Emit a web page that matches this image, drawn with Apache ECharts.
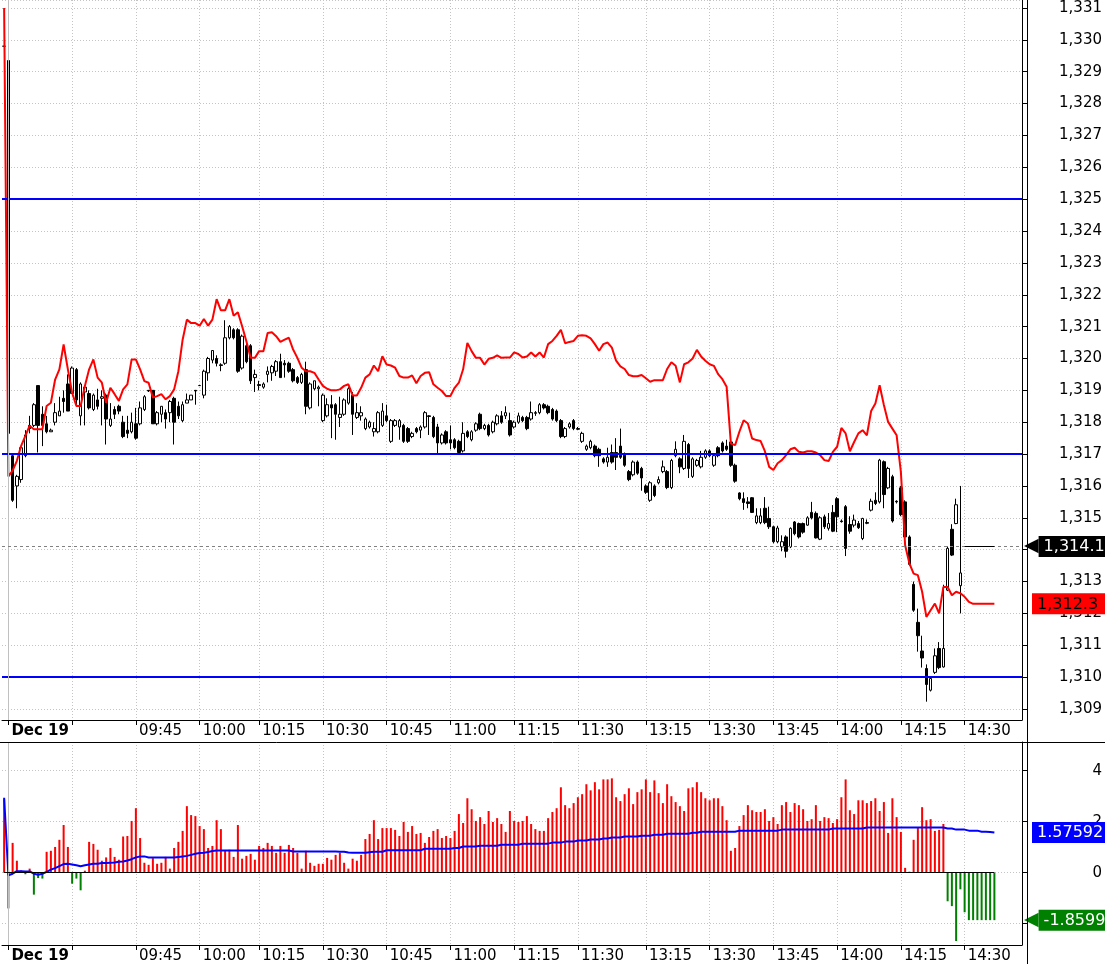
<!DOCTYPE html>
<html><head><meta charset="utf-8">
<script src="https://cdn.jsdelivr.net/npm/echarts@6/dist/echarts.min.js"></script>
<style>html,body{margin:0;padding:0;background:#fff}#c{width:1105px;height:964px}</style>
</head><body><div id="c"></div>
<script>
// ---------- categories (1-minute bars) ----------
const prevBarLabel = 'Dec 18 15:14';
const morningSession = ['09:15', '11:30'];
const afternoonSession = ['13:00', '14:43'];
const missingMinutes = ['10:07'];
const tickTimes  = ['09:15','09:30','09:45','10:00','10:15','10:30','10:45','11:00','11:15','11:30','13:15','13:30','13:45','14:00','14:15','14:30'];
const tickLabels = ['Dec 19','','09:45','10:00','10:15','10:30','10:45','11:00','11:15','11:30','13:15','13:30','13:45','14:00','14:15','14:30'];

// ---------- price pane: candles [open, close, low, high] ----------
const ohlc = [
[1329.8,1329.8,1329.8,1329.8],[1329.35,1317.65,1317.2,1329.4],[1316.95,1315.55,1315.5,1317.0],[1316.0,1316.3,1315.3,1316.35],[1316.2,1317.2,1316.1,1317.25],
[1316.95,1317.6,1316.9,1317.75],[1317.9,1317.8,1317.65,1318.2],[1317.9,1318.55,1317.85,1318.6],[1319.15,1317.9,1317.05,1319.15],[1318.25,1317.9,1317.25,1318.5],
[1317.95,1317.7,1317.65,1318.2],[1317.7,1317.75,1317.7,1317.8],[1318.0,1318.3,1317.9,1318.6],[1318.2,1318.35,1318.2,1318.8],[1318.75,1318.65,1318.3,1319.0],
[1319.2,1318.35,1318.35,1319.5],[1318.9,1319.7,1318.9,1319.75],[1319.65,1318.7,1318.5,1319.7],[1318.2,1319.2,1317.9,1319.25],[1318.95,1319.1,1317.9,1319.15],
[1318.9,1318.45,1318.4,1319.0],[1318.4,1318.85,1318.35,1318.9],[1318.7,1318.5,1318.4,1319.05],[1318.75,1318.8,1317.9,1319.0],[1318.85,1318.1,1317.3,1318.9],
[1317.9,1318.1,1317.85,1318.6],[1318.4,1318.25,1318.1,1318.5],[1318.5,1318.35,1318.25,1318.55],[1318.0,1317.55,1317.5,1318.2],[1317.75,1317.65,1317.5,1318.2],
[1317.7,1318.0,1317.65,1318.3],[1317.95,1317.5,1317.45,1318.45],[1317.95,1318.45,1317.9,1318.65],[1318.4,1318.8,1318.35,1318.85],[1319.0,1318.98,1318.95,1319.0],
[1319.0,1317.95,1317.95,1319.0],[1317.95,1318.3,1317.9,1318.35],[1318.25,1318.5,1318.0,1318.5],[1318.3,1318.1,1317.8,1318.4],[1318.3,1318.65,1318.0,1318.7],
[1318.75,1318.0,1317.3,1318.8],[1318.5,1318.2,1318.1,1318.65],[1318.05,1318.55,1318.0,1318.65],[1318.6,1318.7,1318.6,1318.9],[1318.7,1318.85,1318.7,1318.85],
[1319.0,1318.98,1318.55,1319.0],[1319.15,1319.15,1319.15,1319.15],[1318.85,1319.6,1318.75,1319.65],[1319.55,1320.0,1319.3,1320.05],[1319.95,1320.25,1319.85,1320.25],
[1320.0,1319.85,1319.75,1320.1],[1319.8,1319.78,1319.6,1319.85],[1319.85,1320.65,1319.8,1321.2],[1320.65,1321.0,1320.6,1321.05],[1320.9,1320.65,1320.6,1320.95],
[1320.9,1319.6,1319.55,1320.95],[1319.7,1320.7,1319.65,1320.75],[1320.4,1319.9,1319.85,1320.5],[1320.4,1319.3,1319.2,1320.45],[1319.4,1319.5,1318.95,1319.65],
[1319.18,1319.15,1319.0,1319.3],[1319.1,1319.2,1319.05,1319.25],[1319.5,1319.6,1319.25,1319.75],[1319.55,1319.75,1319.3,1319.8],[1319.6,1319.9,1319.45,1319.95],
[1319.9,1319.4,1319.4,1320.15],[1319.85,1319.8,1319.4,1319.95],[1319.85,1319.6,1319.55,1319.9],[1319.65,1319.3,1319.25,1319.7],[1319.4,1319.25,1319.2,1319.45],
[1319.25,1319.5,1319.2,1319.55],[1319.65,1318.5,1318.25,1319.9],[1318.45,1319.2,1318.4,1319.25],[1319.05,1319.3,1319.0,1319.3],[1319.05,1319.1,1318.5,1319.15],
[1318.05,1318.85,1318.0,1318.9],[1318.2,1318.55,1318.15,1318.75],[1318.55,1318.45,1317.5,1318.85],[1318.55,1318.25,1317.45,1318.6],[1318.15,1318.25,1317.85,1318.8],
[1318.25,1318.7,1318.2,1318.75],[1318.6,1319.05,1318.55,1319.1],[1318.85,1318.25,1317.6,1318.95],[1318.15,1318.3,1318.1,1318.6],[1318.2,1318.3,1318.05,1318.5],
[1317.8,1318.1,1317.75,1318.15],[1317.85,1318.0,1317.8,1318.05],[1317.7,1317.8,1317.55,1318.0],[1317.7,1318.3,1317.65,1318.35],[1317.9,1318.35,1317.85,1318.6],
[1318.2,1318.05,1318.0,1318.55],[1317.4,1318.05,1317.35,1318.1],[1317.9,1318.05,1317.85,1318.1],[1317.85,1318.05,1317.45,1318.1],[1317.9,1317.4,1317.35,1317.95],
[1317.8,1317.4,1317.35,1317.85],[1317.55,1317.65,1317.5,1317.7],[1317.8,1317.7,1317.65,1317.85],[1317.75,1317.85,1317.5,1317.9],[1317.85,1318.3,1317.8,1318.35],
[1318.2,1318.18,1317.6,1318.22],[1318.15,1317.55,1317.5,1318.2],[1317.85,1317.35,1317.0,1317.95],[1317.35,1317.6,1317.3,1317.65],[1317.7,1317.35,1317.3,1317.75],
[1317.45,1317.35,1317.15,1317.9],[1317.45,1317.2,1317.15,1317.5],[1317.4,1317.05,1317.0,1317.45],[1317.1,1317.65,1317.05,1318.0],[1317.7,1317.55,1317.5,1317.75],
[1317.45,1317.7,1317.4,1317.75],[1317.75,1317.95,1317.7,1318.0],[1318.25,1317.8,1317.75,1318.3],[1317.8,1317.9,1317.75,1317.95],[1317.9,1317.6,1317.55,1317.95],
[1317.7,1318.0,1317.65,1318.05],[1317.95,1318.2,1317.9,1318.25],[1318.2,1318.0,1317.95,1318.35],[1318.2,1318.3,1318.1,1318.5],[1318.05,1317.6,1317.55,1318.3],
[1317.85,1318.0,1317.8,1318.05],[1318.0,1318.2,1317.95,1318.3],[1318.15,1318.05,1318.0,1318.2],[1318.15,1317.8,1317.75,1318.2],[1318.1,1318.3,1318.05,1318.65],
[1318.3,1318.28,1318.2,1318.35],[1318.3,1318.55,1318.25,1318.6],[1318.55,1318.45,1318.4,1318.6],[1318.5,1318.3,1318.25,1318.55],[1318.4,1318.1,1318.05,1318.45],
[1318.35,1318.05,1318.0,1318.4],[1318.05,1317.55,1317.5,1318.1],[1317.55,1317.8,1317.5,1317.85],[1317.85,1317.95,1317.8,1318.0],[1318.05,1317.8,1317.75,1318.1],
[1317.8,1317.78,1317.75,1317.85],[1317.4,1317.65,1317.35,1317.7],[1317.15,1317.25,1317.1,1317.3],[1317.2,1317.4,1317.15,1317.45],[1317.25,1316.95,1316.9,1317.3],
[1317.15,1316.95,1316.6,1317.2],[1316.85,1316.75,1316.7,1316.9],[1316.75,1316.9,1316.6,1317.2],[1317.05,1316.75,1316.7,1317.3],[1317.05,1316.9,1316.5,1317.5],
[1317.25,1316.9,1316.85,1317.8],[1317.0,1316.65,1316.6,1317.05],[1316.45,1316.2,1316.15,1316.5],[1316.35,1316.75,1316.3,1316.8],[1316.75,1316.4,1316.35,1316.8],
[1316.55,1316.25,1315.85,1316.6],[1316.0,1315.8,1315.75,1316.05],[1315.55,1316.1,1315.5,1316.15],[1316.0,1315.7,1315.65,1316.05],[1316.1,1316.2,1316.05,1316.3],
[1316.45,1316.6,1316.4,1316.8],[1316.45,1315.95,1315.9,1316.5],[1315.95,1316.8,1315.9,1316.85],[1316.95,1317.15,1316.9,1317.4],[1316.85,1316.6,1316.4,1316.9],
[1316.55,1317.4,1316.5,1317.6],[1317.3,1316.55,1316.25,1317.35],[1316.3,1316.85,1316.25,1316.9],[1316.65,1316.8,1316.6,1316.85],[1316.6,1316.9,1316.55,1317.1],
[1316.9,1317.1,1316.85,1317.15],[1317.1,1316.95,1316.9,1317.15],[1316.65,1316.95,1316.6,1317.0],[1317.2,1316.95,1316.9,1317.25],[1317.35,1317.1,1317.05,1317.4],
[1317.25,1317.15,1317.1,1317.45],[1317.38,1316.65,1316.6,1317.5],[1316.65,1316.15,1316.1,1316.7],[1315.78,1315.6,1315.55,1315.8],[1315.6,1315.48,1315.25,1315.8],
[1315.5,1315.45,1315.3,1315.65],[1315.63,1315.17,1315.15,1315.65],[1314.85,1315.06,1314.8,1315.3],[1314.85,1315.06,1314.8,1315.3],[1315.3,1314.85,1314.8,1315.65],
[1314.98,1314.72,1314.65,1315.35],[1314.72,1314.25,1314.2,1314.75],[1314.25,1314.68,1314.2,1314.75],[1314.09,1314.25,1313.95,1314.45],[1314.4,1313.95,1313.75,1314.45],
[1314.09,1314.67,1314.05,1314.7],[1314.87,1314.5,1314.45,1314.9],[1314.82,1314.4,1314.35,1314.85],[1314.82,1314.55,1314.5,1314.85],[1314.77,1315.0,1314.75,1315.05],
[1315.17,1315.0,1314.95,1315.5],[1315.14,1314.37,1314.35,1315.2],[1314.33,1315.0,1314.3,1315.05],[1315.03,1314.72,1314.65,1315.1],[1314.67,1314.82,1314.6,1315.15],
[1315.17,1314.58,1314.55,1315.4],[1315.6,1315.03,1314.55,1315.65],[1314.9,1314.88,1314.85,1314.95],[1315.35,1314.04,1313.8,1315.4],[1314.79,1314.58,1314.5,1315.05],
[1314.77,1314.93,1314.7,1315.1],[1314.82,1314.69,1314.65,1314.9],[1314.35,1314.98,1314.3,1315.0],[1314.85,1314.83,1314.8,1314.95],[1315.24,1315.52,1315.2,1315.6],
[1315.55,1315.45,1315.4,1315.8],[1315.5,1316.81,1315.45,1316.85],[1316.76,1315.73,1315.3,1316.8],[1315.94,1316.55,1315.9,1316.6],[1316.29,1314.9,1314.85,1316.35],
[1315.52,1315.5,1315.45,1315.55],[1315.94,1315.1,1315.05,1316.0],[1315.5,1314.4,1314.35,1315.55],[1314.4,1313.54,1313.5,1314.45],[1312.91,1312.1,1312.05,1313.0],
[1311.72,1311.3,1310.8,1312.15],[1310.82,1310.6,1310.3,1311.3],[1310.27,1309.77,1309.23,1310.4],[1309.59,1309.96,1309.55,1310.0],[1310.15,1310.67,1310.1,1310.9],
[1310.9,1310.3,1310.25,1311.1],[1310.32,1310.9,1310.3,1312.9],[1312.73,1314.04,1312.7,1314.1],[1314.64,1313.83,1313.8,1314.8],[1314.82,1315.41,1314.8,1315.6],
[1312.87,1313.27,1312.0,1316.0]
];

// red reference line (price pane)
const redLine = [
1331.0,1316.3,1316.48,1316.79,1317.26,1317.57,1317.89,1317.78,1317.78,1317.78,
1318.51,1318.61,1319.34,1319.66,1320.44,1319.66,1318.93,1318.51,1318.51,1319.14,
1319.66,1319.97,1319.4,1319.24,1318.61,1319.08,1318.88,1318.67,1319.03,1319.19,
1319.97,1319.97,1319.66,1319.29,1319.24,1318.77,1318.82,1318.88,1318.72,1318.82,
1319.03,1319.6,1320.59,1321.22,1321.11,1321.11,1321.03,1321.24,1321.03,1321.22,
1321.86,1321.51,1321.51,1321.86,1321.34,1321.45,1321.01,1320.54,1320.02,1320.02,
1320.23,1320.23,1320.8,1320.82,1320.7,1320.52,1320.59,1320.65,1320.28,1320.02,
1319.71,1319.6,1319.6,1319.55,1319.34,1319.14,1319.05,1319.0,1319.0,1319.03,
1319.14,1319.19,1318.84,1318.84,1319.08,1319.4,1319.5,1319.78,1319.6,1320.07,
1319.81,1319.78,1319.71,1319.45,1319.4,1319.4,1319.47,1319.22,1319.45,1319.55,
1319.57,1319.19,1319.08,1318.98,1318.82,1318.82,1319.08,1319.24,1319.66,1320.49,
1320.23,1320.02,1320.02,1319.81,1319.99,1320.02,1320.1,1320.02,1320.03,1320.03,
1320.19,1320.14,1320.03,1320.06,1320.19,1320.06,1320.19,1320.03,1320.45,1320.55,
1320.71,1320.9,1320.48,1320.52,1320.55,1320.71,1320.73,1320.71,1320.63,1320.45,
1320.24,1320.45,1320.5,1320.34,1319.93,1319.75,1319.67,1319.48,1319.44,1319.44,
1319.48,1319.38,1319.27,1319.32,1319.32,1319.32,1319.67,1319.88,1319.77,1319.25,
1319.82,1319.88,1320.0,1320.27,1320.06,1319.93,1319.82,1319.77,1319.51,1319.35,
1319.11,1317.33,1317.28,1317.7,1318.06,1317.96,1317.49,1317.44,1317.41,1317.09,
1316.6,1316.5,1316.71,1316.81,1316.97,1317.15,1317.2,1317.07,1317.05,1317.09,
1317.09,1317.05,1316.97,1316.81,1316.78,1317.07,1317.23,1317.82,1317.65,1317.09,
1317.38,1317.65,1317.75,1317.59,1318.35,1318.59,1319.16,1318.54,1318.01,1317.8,
1317.59,1316.44,1314.14,1313.57,1313.25,1313.2,1312.68,1311.89,1312.1,1312.31,
1312.0,1312.83,1312.83,1312.57,1312.68,1312.63,1312.52,1312.36,1312.3,1312.3,
1312.3,1312.3,1312.3,1312.3
];
const priceLevels = [1325, 1317, 1310];
const lastPrice = 1314.10;
const lastRed = 1312.3;

// ---------- oscillator pane ----------
const histogram = [
2.88,-1.4,1.17,0.47,0.09,-0.06,0.16,-0.86,-0.21,-0.23,
0.82,0.86,1.01,1.29,1.87,1.01,-0.43,-0.23,-0.69,0.08,
1.21,1.13,0.9,0.47,0.6,0.97,0.62,0.51,1.42,1.44,
2.03,2.53,1.36,0.39,0.31,0.57,0.35,0.39,0.62,0.16,
0.97,1.21,1.64,2.61,2.26,2.22,1.83,1.71,0.97,1.05,
2.06,1.71,0.86,0.9,0.62,1.87,0.55,0.66,0.74,0.51,
1.05,0.97,1.17,1.05,0.78,1.05,0.78,1.09,0.97,0.78,
0.16,0.86,0.39,0.27,0.35,0.35,0.58,0.51,0.7,0.78,
0.39,0.16,0.55,0.47,0.7,1.32,1.52,2.06,1.32,1.75,
1.75,1.75,1.68,1.44,1.99,1.6,1.83,1.52,1.56,1.17,
1.4,1.64,1.71,1.36,1.44,1.36,1.64,2.3,1.95,2.92,
2.49,2.03,2.18,1.91,2.42,1.99,2.14,1.91,1.6,2.42,
2.03,1.99,2.03,2.22,1.91,1.71,1.64,1.64,2.14,2.38,
2.53,3.35,2.65,2.53,2.73,2.96,3.08,3.47,3.23,3.55,
3.27,3.66,3.66,3.7,2.96,2.81,3.08,3.31,2.69,3.16,
3.27,3.66,3.16,3.62,3.12,2.73,3.47,3.0,2.77,2.61,
2.42,3.31,3.35,3.55,3.16,2.92,2.84,2.92,2.92,2.61,
2.06,0.86,0.97,1.83,2.26,2.65,2.45,2.38,2.38,2.49,
2.03,2.18,1.91,2.65,2.77,2.38,2.73,2.65,2.49,2.03,
2.1,2.65,2.03,2.18,2.14,1.95,2.1,2.96,3.66,2.45,
2.3,2.84,2.84,2.73,2.81,2.92,2.42,2.77,1.56,2.92,
2.18,1.6,0.19,0.04,1.29,1.75,2.57,2.06,2.1,1.64,
1.68,1.91,-1.12,-1.31,-2.68,-0.65,-1.55,-1.86,-1.86,-1.86,
-1.86,-1.86,-1.86,-1.85999
];
const signalLine = [
2.94,-0.1,-0.04,0.06,0.06,0.05,0.05,-0.04,-0.08,-0.04,
0.03,0.12,0.18,0.26,0.34,0.35,0.32,0.29,0.25,0.29,
0.32,0.35,0.35,0.38,0.38,0.39,0.4,0.43,0.44,0.48,
0.53,0.6,0.64,0.64,0.6,0.6,0.6,0.6,0.6,0.6,
0.6,0.62,0.64,0.66,0.7,0.74,0.77,0.78,0.81,0.85,
0.87,0.87,0.87,0.87,0.87,0.87,0.87,0.87,0.87,0.87,
0.87,0.87,0.87,0.87,0.87,0.87,0.87,0.87,0.83,0.83,
0.83,0.83,0.83,0.83,0.83,0.83,0.83,0.83,0.83,0.82,
0.82,0.79,0.78,0.78,0.78,0.78,0.8,0.82,0.82,0.82,
0.88,0.88,0.88,0.88,0.88,0.88,0.88,0.88,0.88,0.94,
0.94,0.94,0.94,0.94,0.94,0.94,0.97,0.97,1.03,1.03,
1.03,1.03,1.06,1.06,1.06,1.06,1.06,1.1,1.1,1.1,
1.1,1.1,1.14,1.14,1.14,1.14,1.14,1.14,1.14,1.18,
1.18,1.18,1.22,1.22,1.22,1.26,1.26,1.26,1.3,1.3,
1.3,1.34,1.34,1.38,1.38,1.38,1.42,1.42,1.42,1.42,
1.45,1.45,1.45,1.49,1.49,1.49,1.53,1.53,1.53,1.53,
1.53,1.53,1.57,1.57,1.61,1.61,1.61,1.61,1.61,1.61,
1.61,1.61,1.61,1.65,1.65,1.65,1.65,1.65,1.65,1.65,
1.65,1.65,1.65,1.69,1.69,1.69,1.69,1.69,1.69,1.69,
1.69,1.69,1.69,1.69,1.69,1.73,1.73,1.73,1.73,1.73,
1.73,1.73,1.73,1.77,1.77,1.77,1.77,1.77,1.77,1.77,
1.77,1.77,1.77,1.77,1.77,1.77,1.77,1.77,1.77,1.77,
1.77,1.77,1.73,1.73,1.69,1.69,1.69,1.65,1.65,1.65,
1.61,1.61,1.6,1.57592
];
const lastSignal = 1.57592;
const lastHist = -1.85999;

// ---------- build categories ----------
function toMin(t){const [h,m]=t.split(':').map(Number);return h*60+m;}
function toStr(n){const h=Math.floor(n/60),m=n%60;return (h<10?'0':'')+h+':'+(m<10?'0':'')+m;}
function minuteRange(r){const out=[];for(let n=toMin(r[0]);n<=toMin(r[1]);n++)out.push(toStr(n));return out;}
const categories = [prevBarLabel]
  .concat(minuteRange(morningSession).filter(t => missingMinutes.indexOf(t) < 0))
  .concat(minuteRange(afternoonSession));

const labelOf = {}; tickTimes.forEach((t,i)=>{labelOf[t]=tickLabels[i];});
const isTick = (i, v) => Object.prototype.hasOwnProperty.call(labelOf, v);

const FF = 'DejaVu Sans';
const GRID_GRAY = '#c4c4c4';

function xAxisFor(g){
  return {
    type:'category', gridIndex:g, data:categories, boundaryGap:true,
    axisLine:{show:true, onZero:false, lineStyle:{color:'#000', width:1}},
    axisTick:{show:true, alignWithLabel:true, interval:isTick, length:5, lineStyle:{color:'#000'}},
    axisLabel:{show:true, interval:isTick, align:'left', margin:4, padding:[0,0,0,3],
      color:'#000', fontFamily:FF, fontSize:15,
      formatter:(v)=> v===tickTimes[0] ? '{b|'+labelOf[v]+'}' : labelOf[v],
      rich:{b:{fontWeight:'bold', fontFamily:FF, fontSize:15, color:'#000'}}},
    splitLine:{show:true, interval:isTick, alignWithLabel:true, lineStyle:{color:GRID_GRAY, type:[1,2], width:1}}
  };
}
// value tag on the right axis; optional left-pointing arrow
function tag(text, bg, fg, dist, arrow){
  return {show:true, position:'end', distance:dist,
    formatter: arrow ? '{a|\u25C0}{t|'+text+'}' : '{t|'+text+'}',
    rich:{
      a:{color:bg, fontSize:19, fontFamily:FF, padding:[0,0,0,0], lineHeight:21},
      t:{backgroundColor:bg, color:fg, fontFamily:FF, fontSize:16, padding:[3,12,2,5], lineHeight:16}
    }};
}
const hidden = {show:false};
const noLine = {color:'rgba(0,0,0,0)', width:1, type:'solid'};

const chart = echarts.init(document.getElementById('c'), null, {renderer:'canvas'});
chart.setOption({
  animation:false,
  backgroundColor:'#ffffff',
  grid:[
    {left:2, right:78, top:0, height:720},
    {left:2, right:78, top:742, height:205}
  ],
  xAxis:[xAxisFor(0), xAxisFor(1)],
  yAxis:[
    {type:'value', gridIndex:0, position:'right', min:1308.655, max:1331.25,
     minInterval:1, maxInterval:1, splitNumber:22,
     axisLine:{show:true, lineStyle:{color:'#000'}},
     axisTick:{show:true, length:6, lineStyle:{color:'#000'}},
     axisLabel:{align:'right', margin:80, color:'#000', fontFamily:FF, fontSize:15,
       showMinLabel:false, showMaxLabel:false,
       formatter:(v)=> Math.round(v).toLocaleString('en-US')},
     splitLine:{show:true, lineStyle:{color:GRID_GRAY, type:[1,2]}}},
    {type:'value', gridIndex:1, position:'right', min:-2.835, max:5.126,
     minInterval:2, maxInterval:2, splitNumber:4,
     axisLine:{show:true, lineStyle:{color:'#000'}},
     axisTick:{show:true, length:6, lineStyle:{color:'#000'}},
     axisLabel:{align:'right', margin:80, color:'#000', fontFamily:FF, fontSize:15,
       showMinLabel:false, showMaxLabel:false, formatter:(v)=> String(Math.round(v))},
     splitLine:{show:true, lineStyle:{color:GRID_GRAY, type:[1,2]}}}
  ],
  series:[
    {type:'candlestick', xAxisIndex:0, yAxisIndex:0, barWidth:3, z:2,
     data:ohlc,
     itemStyle:{color:'#ffffff', color0:'#000000', borderColor:'#000000', borderColor0:'#000000', borderWidth:1},
     markLine:{silent:true, symbol:['none','none'], animation:false, z:6,
       data:[
         {xAxis:categories[1], lineStyle:{color:'#c0c0c0', type:'solid', width:1}, label:hidden},
         {yAxis:lastPrice, lineStyle:{color:'#808080', type:[3,3], width:1},
          label:tag('1,314.10', '#000000', '#ffffff', 2, true)},
         [{coord:[categories[226], lastPrice]}, {coord:[categories[233], lastPrice]}]
       ],
       lineStyle:{color:'#000', type:'solid', width:1}, label:hidden}
    },
    {type:'line', xAxisIndex:0, yAxisIndex:0, data:redLine, showSymbol:false, symbol:'none', z:4,
     lineStyle:{color:'#ff0000', width:2}, itemStyle:{color:'#ff0000'},
     markLine:{silent:true, symbol:['none','none'], animation:false,
       data:priceLevels.map(v=>({yAxis:v, lineStyle:{color:'#0000ff', width:2, type:'solid'}, label:hidden}))
         .concat([{yAxis:lastRed, lineStyle:noLine, label:tag('1,312.3', '#ff0000', '#000000', 10, false)}])}
    },
    {type:'bar', xAxisIndex:1, yAxisIndex:1, data:histogram, barWidth:2, z:2,
     itemStyle:{color:(p)=> p.value < 0 ? '#008000' : '#ff0000'},
     markLine:{silent:true, symbol:['none','none'], animation:false,
       data:[
         {xAxis:categories[1], lineStyle:{color:'#c0c0c0', type:'solid', width:1}, label:hidden},
         [{coord:[categories[0], 0], lineStyle:{color:'#000', width:1, type:'solid'}}, {coord:[categories[233], 0]}],
         {yAxis:lastHist, lineStyle:noLine, label:tag('-1.85999', '#008000', '#ffffff', 2, true)}
       ], label:hidden}
    },
    {type:'line', xAxisIndex:1, yAxisIndex:1, data:signalLine, showSymbol:false, symbol:'none', z:4,
     lineStyle:{color:'#0000ff', width:2}, itemStyle:{color:'#0000ff'},
     markLine:{silent:true, symbol:['none','none'], animation:false,
       data:[{yAxis:lastSignal, lineStyle:noLine, label:tag('1.57592', '#0000ff', '#ffffff', 10, false)}]}
    }
  ],
  graphic:[
    {type:'line', z:100, shape:{x1:1027.5, y1:0, x2:1027.5, y2:964}, style:{stroke:'#000', lineWidth:1}},
    {type:'line', z:100, shape:{x1:0, y1:742.5, x2:1105, y2:742.5}, style:{stroke:'#000', lineWidth:1}}
  ]
});
</script></body></html>
